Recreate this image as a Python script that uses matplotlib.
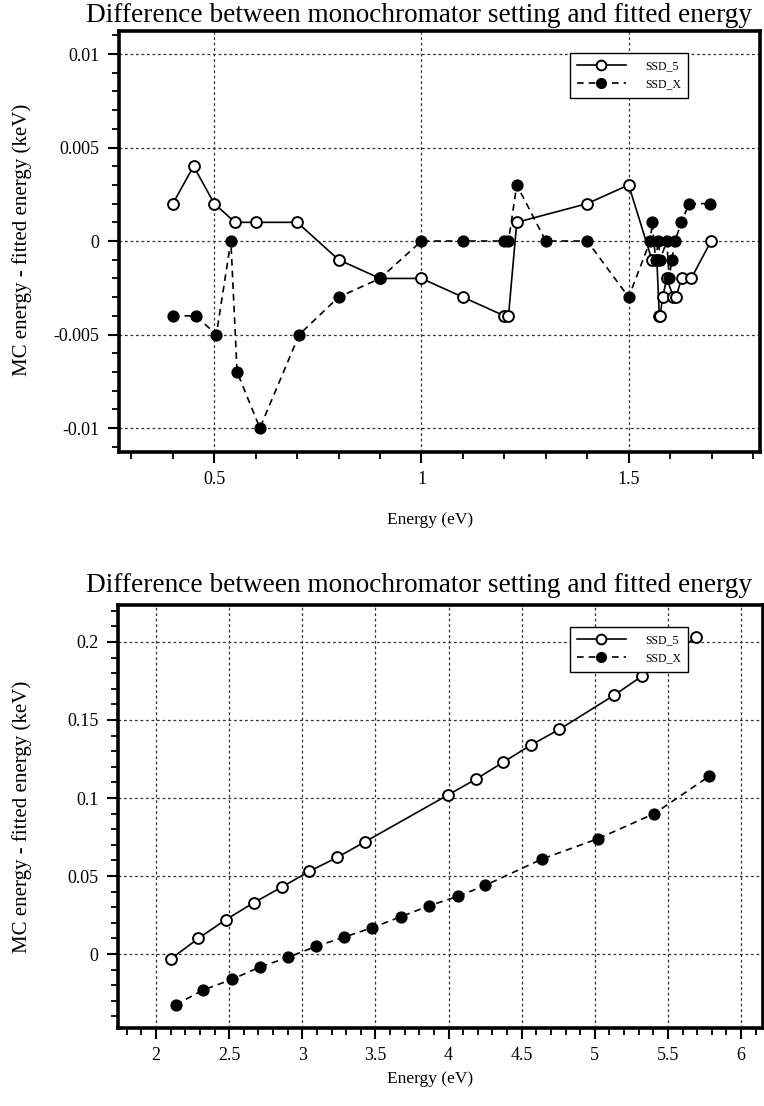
import matplotlib
matplotlib.use("Agg")
import matplotlib.pyplot as plt
from matplotlib.ticker import FixedLocator, FixedFormatter, MultipleLocator

plt.rcParams['font.family'] = ['Liberation Serif', 'DejaVu Serif']
plt.rcParams['axes.unicode_minus'] = False

title_text = "Difference between monochromator setting and fitted energy"
xlabel_text = "Energy (eV)"
ylabel_text = "MC energy - fitted energy (keV)"
series_names = ["SSD_5", "SSD_X"]

# ---- top panel data ----
top_ssd5_x = [0.40, 0.45, 0.50, 0.55, 0.60, 0.70, 0.80, 0.90, 1.00, 1.10, 1.20, 1.21, 1.23,
              1.40, 1.50, 1.556, 1.568, 1.574, 1.576, 1.582, 1.592, 1.608, 1.614, 1.628,
              1.651, 1.699]
top_ssd5_y = [0.002, 0.004, 0.002, 0.001, 0.001, 0.001, -0.001, -0.002, -0.002, -0.003,
              -0.004, -0.004, 0.001, 0.002, 0.003, -0.001, -0.001, -0.004, -0.004, -0.003,
              -0.002, -0.003, -0.003, -0.002, -0.002, 0.0]
top_ssdx_x = [0.40, 0.455, 0.505, 0.54, 0.555, 0.61, 0.705, 0.80, 0.90, 1.00, 1.10, 1.20,
              1.21, 1.23, 1.30, 1.40, 1.50, 1.552, 1.557, 1.565, 1.572, 1.576, 1.592,
              1.598, 1.604, 1.612, 1.627, 1.646, 1.697]
top_ssdx_y = [-0.004, -0.004, -0.005, 0.0, -0.007, -0.010, -0.005, -0.003, -0.002, 0.0,
              0.0, 0.0, 0.0, 0.003, 0.0, 0.0, -0.003, 0.0, 0.001, -0.001, 0.0, -0.001,
              0.0, -0.002, -0.001, 0.0, 0.001, 0.002, 0.002]
top_xticks = [0.5, 1.0, 1.5]
top_xticklabels = ["0.5", "1", "1.5"]
top_yticks = [-0.01, -0.005, 0.0, 0.005, 0.01]
top_yticklabels = ["-0.01", "-0.005", "0", "0.005", "0.01"]

# ---- bottom panel data ----
bot_ssd5_x = [2.103, 2.289, 2.477, 2.670, 2.862, 3.048, 3.240, 3.430, 3.997, 4.186, 4.375,
              4.564, 4.758, 5.134, 5.321, 5.692]
bot_ssd5_y = [-0.003, 0.010, 0.022, 0.033, 0.043, 0.053, 0.062, 0.072, 0.102, 0.112, 0.123,
              0.134, 0.144, 0.166, 0.178, 0.203]
bot_ssdx_x = [2.134, 2.324, 2.517, 2.711, 2.900, 3.094, 3.288, 3.479, 3.673, 3.869, 4.065,
              4.250, 4.642, 5.024, 5.407, 5.783]
bot_ssdx_y = [-0.0325, -0.023, -0.0163, -0.0083, -0.0022, 0.0049, 0.0109, 0.0169, 0.0239,
              0.031, 0.037, 0.044, 0.061, 0.074, 0.090, 0.114]
bot_xticks = [2, 2.5, 3, 3.5, 4, 4.5, 5, 5.5, 6]
bot_xticklabels = ["2", "2.5", "3", "3.5", "4", "4.5", "5", "5.5", "6"]
bot_yticks = [0.0, 0.05, 0.1, 0.15, 0.2]
bot_yticklabels = ["0", "0.05", "0.1", "0.15", "0.2"]

W, H = 764, 1106
fig = plt.figure(figsize=(W / 100, H / 100), dpi=100)


def px_axes(l, t, r, b):
    return fig.add_axes([l / W, 1 - b / H, (r - l) / W, (b - t) / H])


def style(ax, xlim, ylim, xt, xtl, yt, ytl, xminor, yminor):
    ax.set_xlim(*xlim)
    ax.set_ylim(*ylim)
    ax.xaxis.set_major_locator(FixedLocator(xt))
    ax.xaxis.set_major_formatter(FixedFormatter(xtl))
    ax.yaxis.set_major_locator(FixedLocator(yt))
    ax.yaxis.set_major_formatter(FixedFormatter(ytl))
    ax.xaxis.set_minor_locator(MultipleLocator(xminor))
    ax.yaxis.set_minor_locator(MultipleLocator(yminor))
    ax.tick_params(which='major', direction='out', length=8, width=1.5, labelsize=13,
                   top=False, right=False, pad=6)
    ax.tick_params(which='minor', direction='out', length=5, width=1.3, top=False, right=False)
    for s in ax.spines.values():
        s.set_linewidth(2.6)
        s.set_color('black')
    ax.grid(True, which='major', linestyle=(0, (2.2, 2.2)), linewidth=0.9, color='#333333')
    ax.set_axisbelow(True)


def draw(ax, x5, y5, xx, yx, ms):
    ax.plot(x5, y5, '-', color='black', lw=1.2, marker='o', ms=ms, mfc='white',
            mec='black', mew=1.4, label=series_names[0], zorder=3)
    ax.plot(xx, yx, color='black', lw=1.2, linestyle=(0, (4, 3)), marker='o', ms=ms,
            mfc='black', mec='black', mew=1.0, label=series_names[1], zorder=4)


def legend(ax, anchor):
    leg = ax.legend(loc='upper right', bbox_to_anchor=anchor, fontsize=8.5, frameon=True,
                    fancybox=False, edgecolor='black', framealpha=1, handlelength=4.2,
                    handletextpad=1.6, borderpad=0.6, labelspacing=0.55, borderaxespad=0,
                    markerscale=0.9)
    leg.get_frame().set_linewidth(1.0)


# top panel
ax1 = px_axes(119, 31, 760, 452)
draw(ax1, top_ssd5_x, top_ssd5_y, top_ssdx_x, top_ssdx_y, 7.8)
style(ax1, (0.27, 1.817), (-0.01128, 0.01123), top_xticks, top_xticklabels,
      top_yticks, top_yticklabels, 0.1, 0.001)
legend(ax1, (0.888, 0.948))

# bottom panel
ax2 = px_axes(118, 605, 763, 1028)
draw(ax2, bot_ssd5_x, bot_ssd5_y, bot_ssdx_x, bot_ssdx_y, 7.8)
style(ax2, (1.74, 6.15), (-0.0474, 0.2237), bot_xticks, bot_xticklabels,
      bot_yticks, bot_yticklabels, 0.1, 0.01)
legend(ax2, (0.884, 0.948))

# titles and labels (positioned in pixels)
for ty, xy, yy in [(15, 520, 240), (586, 1079, 817)]:
    fig.text(419 / W, 1 - ty / H, title_text, ha='center', va='center', fontsize=19.6)
    fig.text(430 / W, 1 - xy / H, xlabel_text, ha='center', va='center', fontsize=12.5)
    fig.text(22 / W, 1 - yy / H, ylabel_text, ha='center', va='center', fontsize=15,
             rotation=90)

fig.savefig("out.png", dpi=100)
